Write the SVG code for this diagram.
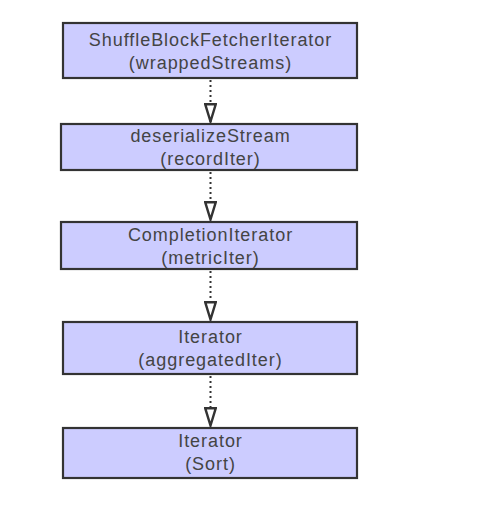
<svg xmlns="http://www.w3.org/2000/svg" width="498" height="505" viewBox="0 0 498 505">
<style>
.box{fill:#ccccff;stroke:#333;stroke-width:2.2}
.t{font-family:"Liberation Sans",Arial,sans-serif;font-size:18px;fill:#444;text-anchor:middle;letter-spacing:0.95px}
.c{fill:none;stroke:#333;stroke-width:2;stroke-dasharray:2 3}
</style>
<defs>
<marker id="ah" viewBox="0 0 20 13" markerWidth="20" markerHeight="13" refX="19" refY="6.5" orient="auto" markerUnits="userSpaceOnUse">
<path d="M1.2,1.2 L18.5,6.5 L1.2,11.8 Z" fill="#fff" stroke="#333" stroke-width="2.4" stroke-linejoin="miter"/>
</marker>
</defs>
<rect width="498" height="505" fill="#fff"/>
<g id="connectors">
<path class="c" d="M210.5,80 V122" marker-end="url(#ah)"/>
<path class="c" d="M210.5,172 V220" marker-end="url(#ah)"/>
<path class="c" d="M210.5,271 V320" marker-end="url(#ah)"/>
<path class="c" d="M210.5,376 V426" marker-end="url(#ah)"/>
</g>
<g id="node1">
<rect class="box" x="63" y="23" width="294" height="55"/>
<text class="t" x="210.5" y="46">ShuffleBlockFetcherIterator</text>
<text class="t" x="210.5" y="69">(wrappedStreams)</text>
</g>
<g id="node2">
<rect class="box" x="61" y="124" width="296" height="46"/>
<text class="t" x="210.5" y="142">deserializeStream</text>
<text class="t" x="210.5" y="165">(recordIter)</text>
</g>
<g id="node3">
<rect class="box" x="61" y="222" width="296" height="47"/>
<text class="t" x="210.5" y="241">CompletionIterator</text>
<text class="t" x="210.5" y="264">(metricIter)</text>
</g>
<g id="node4">
<rect class="box" x="63" y="322" width="294" height="52"/>
<text class="t" x="210.5" y="343">Iterator</text>
<text class="t" x="210.5" y="366">(aggregatedIter)</text>
</g>
<g id="node5">
<rect class="box" x="63" y="428" width="294" height="50"/>
<text class="t" x="210.5" y="447">Iterator</text>
<text class="t" x="210.5" y="470">(Sort)</text>
</g>
</svg>
